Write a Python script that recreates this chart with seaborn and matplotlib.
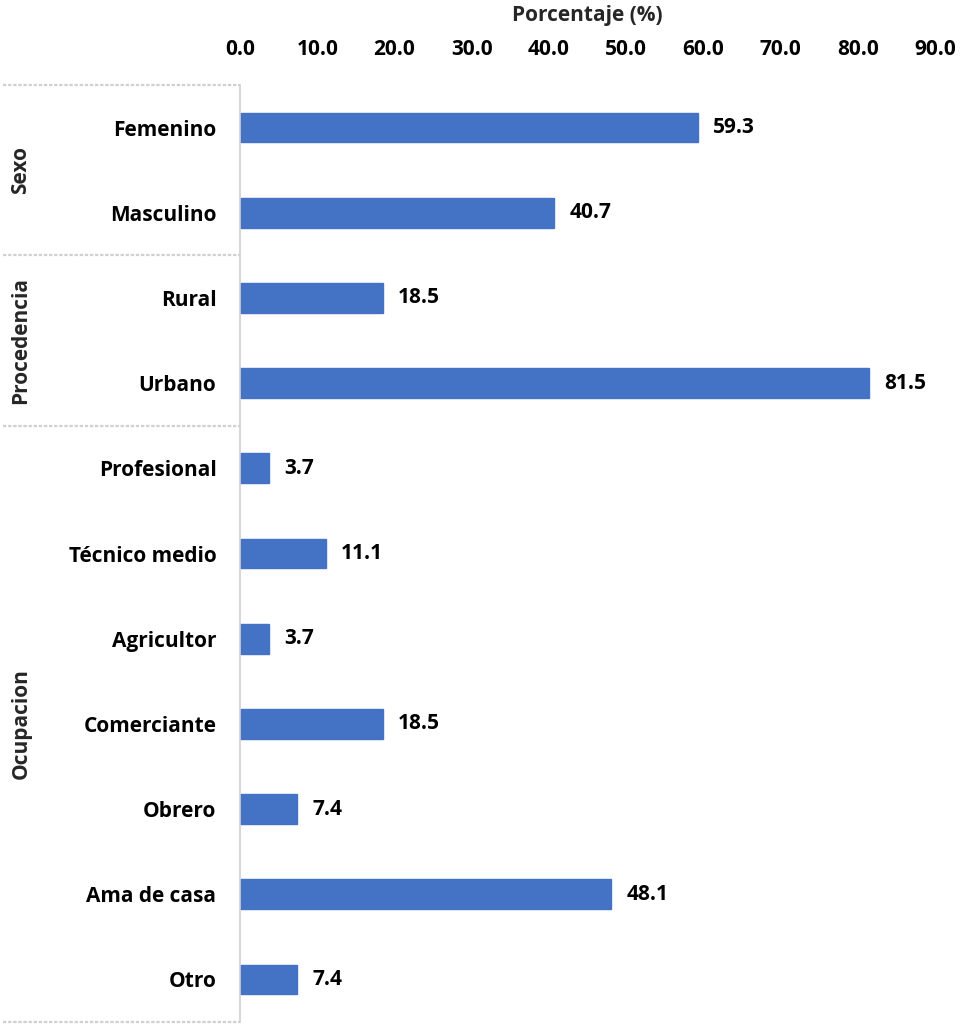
import matplotlib
matplotlib.use("Agg")
import matplotlib.pyplot as plt
import matplotlib.transforms as mtransforms
from matplotlib.lines import Line2D
import seaborn as sns
import pandas as pd

categorias = ["Femenino", "Masculino", "Rural", "Urbano", "Profesional",
              "Técnico medio", "Agricultor", "Comerciante", "Obrero",
              "Ama de casa", "Otro"]
porcentajes = [59.3, 40.7, 18.5, 81.5, 3.7, 11.1, 3.7, 18.5, 7.4, 48.1, 7.4]
grupos = ["Sexo", "Procedencia", "Ocupacion"]
tamanos_grupo = [2, 2, 7]
ticks_x = [0, 10, 20, 30, 40, 50, 60, 70, 80, 90]

sns.set_theme(style="white")
plt.rcParams["font.family"] = ["Open Sans", "DejaVu Sans"]
plt.rcParams["font.weight"] = "bold"
FS = 15

df = pd.DataFrame({"categoria": categorias, "porcentaje": porcentajes})

fig = plt.figure(figsize=(9.63, 10.25), dpi=100)
ax = fig.add_axes([240 / 963, 1 - 1022 / 1025, (935 - 240) / 963, (1022 - 85) / 1025])

sns.barplot(data=df, y="categoria", x="porcentaje", orient="h",
            color="#4472C4", saturation=1, width=0.35, ax=ax)
for p in ax.patches:
    p.set_edgecolor("#4472C4")

ax.set_xlim(0, 90)
ax.set_ylim(len(categorias) - 0.5, -0.5)
ax.set_xticks(ticks_x)
ax.set_xticklabels([f"{t:.1f}" for t in ticks_x], fontsize=FS, fontweight="bold")
ax.xaxis.tick_top()
ax.xaxis.set_label_position("top")
ax.set_xlabel("Porcentaje (%)", fontsize=FS, fontweight="bold", labelpad=13)
ax.set_ylabel("")
ax.tick_params(axis="x", length=0, pad=18, colors="black")
ax.tick_params(axis="y", length=0, pad=17, colors="black")
for lbl in ax.get_yticklabels():
    lbl.set_fontsize(FS)
    lbl.set_fontweight("bold")

for s in ["top", "right", "bottom"]:
    ax.spines[s].set_visible(False)
ax.spines["left"].set_color("#d0d0d0")
ax.spines["left"].set_linewidth(1.2)

for c in ax.containers:
    ax.bar_label(c, fmt="%.1f", padding=11, fontsize=FS, fontweight="bold",
                 color="black")

# group brackets on the left side
trans = mtransforms.blended_transform_factory(fig.transFigure, ax.transData)
x_right = 240 / 963
inicio = -0.5
bordes = [inicio]
for n in tamanos_grupo:
    bordes.append(bordes[-1] + n)
for yb in bordes:
    fig.add_artist(Line2D([0.003, x_right], [yb, yb], transform=trans,
                          color="#d0d0d0", lw=1.6, ls=(0, (1.5, 0.8))))
for g, a, b in zip(grupos, bordes[:-1], bordes[1:]):
    fig.text(21 / 963, (a + b) / 2, g, transform=trans, rotation=90,
             ha="center", va="center", fontsize=FS, fontweight="bold")

fig.savefig("out.png", dpi=100)
